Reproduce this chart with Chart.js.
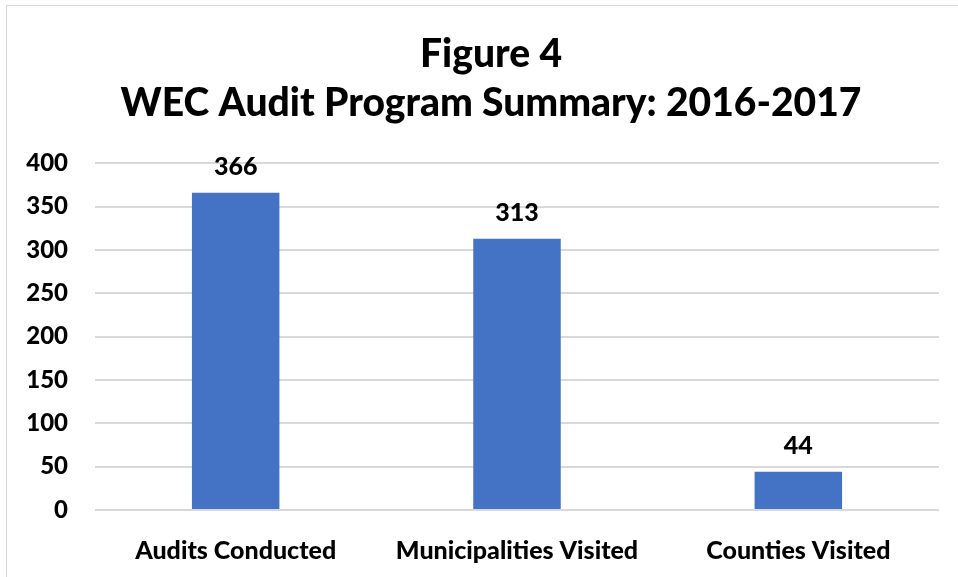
<!DOCTYPE html>
<html>
<head>
<meta charset="utf-8">
<script src="https://cdn.jsdelivr.net/npm/chart.js@4"></script>
<style>
  html, body { margin: 0; padding: 0; background: #fff; }
  #wrap { position: relative; width: 958px; height: 577px; overflow: hidden; }
  #frame { position: absolute; left: 6px; top: 5px; width: 1000px; height: 1000px; border: 1px solid #d9d9d9; box-sizing: border-box; }
  canvas { position: absolute; left: 0; top: 0; }
</style>
</head>
<body>
<div id="wrap">
  <div id="frame"></div>
  <canvas id="chart" width="958" height="577"></canvas>
</div>
<script>
const categories = ['Audits Conducted', 'Municipalities Visited', 'Counties Visited'];
const values = [366, 313, 44];
const titleLines = ['Figure 4', 'WEC Audit Program Summary: 2016-2017'];

const fontFamily = 'Lato, "Open Sans", sans-serif';
const fontWeight = '900';

const valueLabels = {
    id: 'valueLabels',
    afterDatasetsDraw(chart) {
        const ctx = chart.ctx;
        ctx.save();
        ctx.fillStyle = '#000';
        ctx.font = fontWeight + ' 25px ' + fontFamily;
        ctx.textAlign = 'center';
        ctx.textBaseline = 'middle';
        chart.getDatasetMeta(0).data.forEach((bar, i) => {
            ctx.fillText(values[i], bar.x, bar.y - 26);
        });
        ctx.restore();
    }
};

new Chart(document.getElementById('chart'), {
    type: 'bar',
    data: {
        labels: categories,
        datasets: [{
            data: values,
            backgroundColor: '#4472C4',
            barPercentage: 0.311,
            categoryPercentage: 1
        }]
    },
    options: {
        responsive: false,
        animation: false,
        // title box is centred on the outer frame, which runs past the right edge
        layout: { padding: { left: 0, right: -24, top: 30, bottom: 0 } },
        plugins: {
            legend: { display: false },
            tooltip: { enabled: false },
            title: {
                display: true,
                text: titleLines,
                color: '#000',
                font: { family: fontFamily, size: 39, weight: fontWeight, lineHeight: 1.26 },
                padding: { top: 0, bottom: 35 }
            }
        },
        scales: {
            x: {
                afterFit(scale) { scale.height = 67; },
                grid: { display: false },
                border: { display: false },
                ticks: {
                    color: '#000',
                    padding: 18,
                    font: { family: fontFamily, size: 25, weight: fontWeight, lineHeight: 1.2 }
                }
            },
            y: {
                min: 0,
                max: 400,
                afterFit(scale) { scale.width = 95; },
                grid: { color: '#d9d9d9', lineWidth: 2, drawTicks: false },
                border: { display: false },
                ticks: {
                    stepSize: 50,
                    color: '#000',
                    padding: 27,
                    font: { family: fontFamily, size: 24, weight: fontWeight }
                }
            },
            spacer: {
                type: 'linear',
                position: 'right',
                afterFit(scale) { scale.width = 43; },
                grid: { display: false },
                border: { display: false },
                ticks: { display: false }
            }
        }
    },
    plugins: [valueLabels]
});
</script>
</body>
</html>
